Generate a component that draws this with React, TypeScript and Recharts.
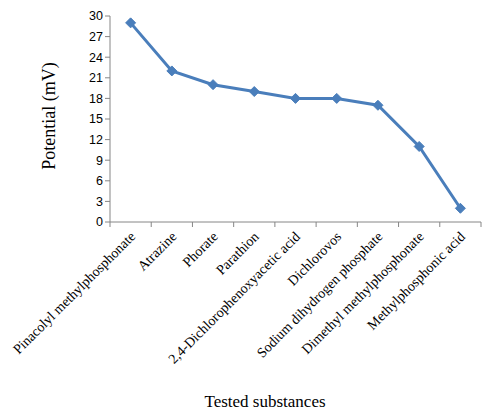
import React from 'react';
import { LineChart, Line, XAxis, YAxis, Label } from 'recharts';

const substances = [
  'Pinacolyl methylphosphonate',
  'Atrazine',
  'Phorate',
  'Parathion',
  '2,4-Dichlorophenoxyacetic acid',
  'Dichlorovos',
  'Sodium dihydrogen phosphate',
  'Dimethyl methylphosphonate',
  'Methylphosphonic acid',
];
const potentials = [29, 22, 20, 19, 18, 18, 17, 11, 2];
const yTicks = [0, 3, 6, 9, 12, 15, 18, 21, 24, 27, 30];

const data = substances.map((name, i) => ({ name, potential: potentials[i] }));

const BLUE = '#4a7ebb';
const AXIS = '#868686';
const SERIF = '"Liberation Serif", "Times New Roman", serif';
const SANS = '"Liberation Sans", Arial, sans-serif';

const PLOT_LEFT = 110;
const PLOT_RIGHT = 481;
const BAND = (PLOT_RIGHT - PLOT_LEFT) / substances.length;

const Diamond = (props: any) => {
  const { cx, cy, index } = props;
  if (cx == null || cy == null) return null;
  const r = 5;
  return (
    <polygon
      key={`d-${index}`}
      points={`${cx},${cy - r} ${cx + r},${cy} ${cx},${cy + r} ${cx - r},${cy}`}
      fill={BLUE}
      stroke={BLUE}
    />
  );
};

const CategoryTick = (props: any) => {
  const { x, y, payload, index } = props;
  const left = x - BAND / 2;
  return (
    <g>
      <line x1={left} y1={y} x2={left} y2={y + 5} stroke={AXIS} />
      {index === substances.length - 1 && (
        <line x1={x + BAND / 2} y1={y} x2={x + BAND / 2} y2={y + 5} stroke={AXIS} />
      )}
      <g transform={`translate(${x + 2},${y + 12}) rotate(-45)`}>
        <text
          x={0}
          y={0}
          dy="0.35em"
          textAnchor="end"
          fill="#000"
          fontSize={14}
          fontFamily={SERIF}
        >
          {payload.value}
        </text>
      </g>
    </g>
  );
};

const YTitle = (props: any) => {
  const { viewBox } = props;
  const cy = viewBox.y + viewBox.height / 2;
  return (
    <text
      x={49}
      y={cy - 3}
      transform={`rotate(-90, 49, ${cy - 3})`}
      textAnchor="middle"
      dominantBaseline="central"
      fill="#000"
      fontSize={18}
      fontFamily={SERIF}
    >
      Potential (mV)
    </text>
  );
};

const XTitle = () => (
  <text
    x={265}
    y={407}
    textAnchor="middle"
    fill="#000"
    fontSize={17}
    fontFamily={SERIF}
  >
    Tested substances
  </text>
);

export default function App() {
  return (
    <div style={{ position: 'absolute', left: 0, top: 0, background: '#fff' }}>
      <LineChart
        width={492}
        height={420}
        data={data}
        margin={{ top: 16, right: 492 - PLOT_RIGHT, left: 0, bottom: 0 }}
      >
        <XAxis
          dataKey="name"
          interval={0}
          height={198}
          padding={{ left: BAND / 2, right: BAND / 2 }}
          tickLine={false}
          tickSize={0}
          tickMargin={0}
          stroke={AXIS}
          tick={<CategoryTick />}
        >
          <Label content={<XTitle />} />
        </XAxis>
        <YAxis
          width={PLOT_LEFT}
          domain={[0, 30]}
          ticks={yTicks}
          interval={0}
          stroke={AXIS}
          tickSize={5}
          tickMargin={2}
          tick={{ fill: '#000', fontSize: 12.5, fontFamily: SANS }}
        >
          <Label content={<YTitle />} />
        </YAxis>
        <Line
          type="linear"
          dataKey="potential"
          stroke={BLUE}
          strokeWidth={3}
          dot={<Diamond />}
          activeDot={false}
          isAnimationActive={false}
        />
      </LineChart>
    </div>
  );
}
